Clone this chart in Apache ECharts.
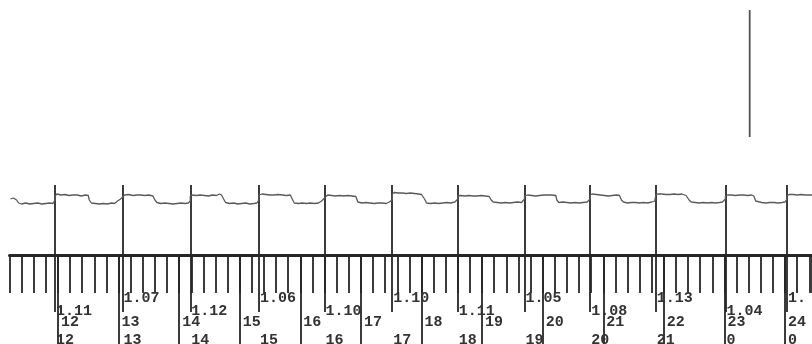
<!DOCTYPE html>
<html>
<head>
<meta charset="utf-8">
<script src="https://cdn.jsdelivr.net/npm/echarts@6/dist/echarts.min.js"></script>
<style>html,body{margin:0;padding:0;background:#fff}#c{width:812px;height:344px}</style>
</head>
<body>
<div id="c"></div>
<script>
// x values: minutes of the day (12:00 = 720); y values: pen level above the baseline
const hourMinutes = [720, 780, 840, 900, 960, 1020, 1080, 1140, 1200, 1260, 1320, 1380, 1440];
const hourLabels = ['12','13','14','15','16','17','18','19','20','21','22','23','24'];
const markerMinutes = [717, 784, 851, 919, 984, 1051, 1116, 1182, 1247, 1312, 1381, 1442];
const markerLabels = ['1.11','1.07','1.12','1.06','1.10','1.10','1.11','1.05','1.08','1.13','1.04','1.'];
const periodLabels = ['12','13','14','15','16','17','18','19','20','21','0','0'];
const penMark = [[1405, 245], [1405, 118]];
const trace = [
  [673,56],[676,57],[679,55],[681,52],[684,51],[688,52],[692,51],[696,51.5],[700,52],[704,51],[708,51.5],[712,52],[715,51.5],[717,55],
  [717,59],[719,61],[723,60],[727,60.5],[731,59.5],[735,60],[739,60],[743,59],[747,60],[750,59.5],[751,55],[753,52],[757,51.5],[761,51],[765,51.5],[769,51],[773,52],[776,51.5],[779,54],[782,56],[784,58],
  [784,59],[786,60],[790,60.5],[794,59.5],[798,60],[802,60],[806,59.5],[810,60],[814,59],[816,55],[818,52.5],[822,51.5],[826,52],[830,51.5],[834,51],[838,51.5],[842,52],[846,51.5],[849,52],[851,54],
  [851,59],[853,60],[857,59.5],[861,60],[865,59.5],[869,59],[873,60],[877,59.5],[880,61],[882,60],[884,56],[886,52.5],[890,51.5],[894,52],[898,51],[902,51.5],[906,52],[910,51],[914,51.5],[917,52],[919,55],
  [919,60],[922,61],[926,60.5],[930,60],[934,60],[938,60.5],[942,60],[946,59.5],[950,60],[952,56],[954,52],[958,51.5],[962,52],[966,51.5],[970,52],[974,51.5],[978,52],[981,54],[984,57],
  [984,59],[987,60],[991,59.5],[995,59],[999,59.5],[1003,59],[1007,59.5],[1011,59],[1015,58.5],[1017,53],[1021,52],[1025,52.5],[1029,52],[1033,51.5],[1037,52],[1041,52],[1045,51.5],[1048,53],[1051,55],
  [1051,61],[1053,62.5],[1057,62],[1061,62],[1065,61.5],[1069,62],[1073,61.5],[1077,61],[1080,60.5],[1083,56],[1085,52],[1089,51.5],[1093,52],[1097,51.5],[1101,52],[1105,52.5],[1109,52],[1113,53],[1116,56],
  [1116,59],[1119,59.5],[1123,59],[1127,59.5],[1131,59],[1135,59],[1139,59.5],[1143,59],[1147,58.5],[1149,55],[1151,53],[1155,52.5],[1159,52],[1163,52.5],[1167,52],[1171,52.5],[1175,53],[1179,52.5],[1182,56],
  [1182,59],[1185,60],[1189,59.5],[1193,59],[1197,59.5],[1201,60],[1205,60],[1209,60],[1213,59.5],[1214,55],[1216,52.5],[1220,53],[1224,52.5],[1228,52],[1232,52.5],[1236,52],[1240,52.5],[1244,53],[1247,56],
  [1247,60],[1249,61],[1253,60.5],[1257,60],[1261,59.5],[1265,59],[1269,59.5],[1273,60],[1276,59.5],[1278,55],[1280,53],[1284,52],[1288,52.5],[1292,52.5],[1296,52],[1300,52.5],[1304,52],[1308,53],[1311,54],[1312,56],
  [1312,60],[1314,61],[1318,61],[1322,60.5],[1326,60.5],[1330,61],[1334,60.5],[1338,61],[1342,59.5],[1345,55],[1347,53],[1351,52.5],[1355,52],[1359,52.5],[1363,52],[1367,52.5],[1371,52],[1375,52.5],[1378,53],[1381,56],
  [1381,59],[1383,60],[1387,60],[1391,59.5],[1395,60],[1399,60],[1403,59.5],[1407,60],[1409,59],[1411,54],[1413,53.5],[1417,52.5],[1421,52],[1425,52.5],[1429,52.5],[1433,52],[1437,52.5],[1440,53],[1442,56],
  [1442,59],[1444,60.5],[1448,60.5],[1452,60],[1456,60.5],[1460,60],[1464,60],[1467,60]
];

const X_MIN = 672, X_MAX = 1466.7;
const ink = '#262626';
const font = { fontFamily: 'Liberation Mono', fontWeight: 'bold', fontSize: 15, color: '#333' };
const lookup = (vals, labels) => v => { const i = vals.findIndex(a => Math.abs(a - v) < 0.01); return i >= 0 ? labels[i] : ''; };
const evenMarkers = markerMinutes.filter((_, i) => i % 2 === 0);
const oddMarkers = markerMinutes.filter((_, i) => i % 2 === 1);

function baseX(extra) {
  return Object.assign({
    type: 'value', gridIndex: 0, position: 'bottom', min: X_MIN, max: X_MAX,
    axisLine: { show: false }, splitLine: { show: false },
    axisTick: { show: false }, axisLabel: { show: false }
  }, extra);
}

const chart = echarts.init(document.getElementById('c'), null, { renderer: 'canvas' });
chart.setOption({
  animation: false,
  backgroundColor: '#ffffff',
  grid: { left: 9.5, right: 0, top: 0, bottom: 89, containLabel: false, outerBoundsMode: 'none' },
  xAxis: [
    baseX({ interval: 12,
      axisLine: { show: true, onZero: false, lineStyle: { color: ink, width: 3 } },
      axisTick: { show: true, length: 38, lineStyle: { color: ink, width: 1.8 } } }),
    baseX({
      axisTick: { show: true, length: 90, customValues: hourMinutes, lineStyle: { color: ink, width: 1.8 } },
      axisLabel: Object.assign({ show: true, customValues: hourMinutes, formatter: lookup(hourMinutes, hourLabels),
        align: 'left', margin: 60, padding: [0, 0, 0, 3] }, font) }),
    baseX({
      axisTick: { show: true, length: 57, customValues: markerMinutes, lineStyle: { color: ink, width: 1.8 } },
      axisLabel: Object.assign({ show: true, customValues: evenMarkers, formatter: lookup(markerMinutes, markerLabels),
        align: 'left', margin: 49, padding: [0, 0, 0, 1] }, font) }),
    baseX({
      axisTick: { show: true, inside: true, length: 70, customValues: markerMinutes, lineStyle: { color: ink, width: 1.8 } },
      axisLabel: Object.assign({ show: true, customValues: oddMarkers, formatter: lookup(markerMinutes, markerLabels),
        align: 'left', margin: 36, padding: [0, 0, 0, 1] }, font) }),
    baseX({
      axisLabel: Object.assign({ show: true, customValues: markerMinutes, formatter: lookup(markerMinutes, periodLabels),
        align: 'left', margin: 78, padding: [0, 0, 0, 1] }, font) })
  ],
  yAxis: { type: 'value', min: 0, max: 255, show: false, splitLine: { show: false } },
  series: [
    { type: 'line', name: 'trace', data: trace, symbol: 'none', xAxisIndex: 0,
      lineStyle: { color: '#5a5a5a', width: 1.3 } },
    { type: 'line', name: 'pen', data: penMark, symbol: 'none', xAxisIndex: 0,
      lineStyle: { color: '#555', width: 1.8 } }
  ]
});
</script>
</body>
</html>
